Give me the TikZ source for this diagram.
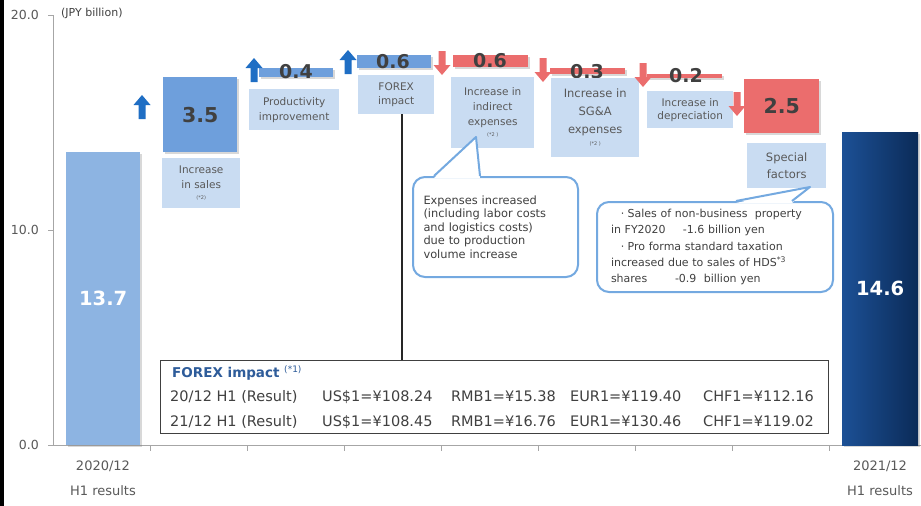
\documentclass[tikz,border=0pt]{standalone}
\usepackage{fontspec}
\setmainfont{DejaVu Sans}
\usetikzlibrary{shadows}

\definecolor{barblue}{HTML}{8DB4E2}
\definecolor{stepblue}{HTML}{6E9FDC}
\definecolor{tagblue}{HTML}{C9DCF2}
\definecolor{upblue}{HTML}{1F6EC4}
\definecolor{stepred}{HTML}{EB6D6D}
\definecolor{navyleft}{HTML}{1C5095}
\definecolor{navyright}{HTML}{0B2B58}
\definecolor{notebl}{HTML}{74A9E0}
\definecolor{txtgray}{HTML}{595959}
\definecolor{valgray}{HTML}{404040}
\definecolor{axisgray}{HTML}{A6A6A6}
\definecolor{fxtitle}{HTML}{2E5C9A}

\tikzset{
	uparr/.pic={
		\fill [pic actions] (-3.5,0) -- (-3.5,-14) -- (-8.5,-14) -- (0,-24)
		-- (8.5,-14) -- (3.5,-14) -- (3.5,0) -- cycle;
	},
	downarr/.pic={
		\fill [pic actions] (-3.5,0) -- (-3.5,14) -- (-8.5,14) -- (0,24)
		-- (8.5,14) -- (3.5,14) -- (3.5,0) -- cycle;
	},
}

\begin{document}
\begin{tikzpicture}[
		x=1pt, y=-1pt,
		bar/.style={
			anchor=north west,
			inner sep=0pt,
			drop shadow={shadow xshift=1.5pt, shadow yshift=-1.5pt, opacity=.3},
			font=\bfseries\fontsize{19.5}{22}\selectfont,
			text=valgray,
		},
		tag/.style={
			anchor=north west,
			inner sep=0pt,
			fill=tagblue,
			align=center,
			text=txtgray,
			font=\fontsize{10.5}{15}\selectfont,
		},
		val/.style={
			inner sep=0pt,
			text=valgray,
			font=\bfseries\fontsize{19}{22}\selectfont,
		},
		note/.style={
			draw=notebl,
			line width=2pt,
			rounded corners=12pt,
			fill=white,
			align=left,
			text=valgray,
		},
		fxrow/.style={
			anchor=base west,
			inner sep=0pt,
			text=valgray,
			font=\fontsize{14.5}{17}\selectfont,
		},
		axisline/.style={
			draw=axisgray,
			line width=1pt,
		},
		axlabel/.style={
			inner sep=0pt,
			text=txtgray,
			font=\fontsize{12.5}{15}\selectfont,
		},
		cat/.style={
			align=center,
			inner sep=0pt,
			text=txtgray,
			font=\fontsize{13}{25}\selectfont,
		},
		link/.style={
			line width=1.5pt,
			black!85,
		},
	]

	\useasboundingbox (0,0) rectangle (921,506);
	\fill [white] (0,0) rectangle (921,506);
	\fill [black] (0,0) rectangle (4,506);

	% axes
	\draw [axisline] (53,15) -- (53,445) -- (921,445);
	\draw [axisline] (48,15) -- (53,15) (48,230) -- (53,230) (48,445) -- (53,445);
	\draw [axisline] (150,445) -- (150,451) (247,445) -- (247,451)
		(344,445) -- (344,451) (441,445) -- (441,451) (538,445) -- (538,451)
		(635,445) -- (635,451) (732,445) -- (732,451) (829,445) -- (829,451);
	\node [axlabel, anchor=east] (ytop) at (39,15) {20.0};
	\node [axlabel, anchor=east] (ymid) at (39,230) {10.0};
	\node [axlabel, anchor=east] (yzero) at (39,445) {0.0};
	\node [axlabel, anchor=west, text=valgray, font=\fontsize{11}{13}\selectfont] (unit) at (61,13) {(JPY billion)};
	\node [cat] (basecat) at (103,478.5) {2020/12\\H1 results};
	\node [cat] (resultcat) at (880,478.5) {2021/12\\H1 results};

	% bars
	\node [bar, fill=barblue, text=white, minimum width=74, minimum height=293] (base) at (66,152) {13.7};
	\node [bar, fill=stepblue, font=\bfseries\fontsize{20.5}{24}\selectfont, minimum width=74, minimum height=75] (sales) at (163,77) {3.5};
	\node [bar, fill=stepblue, minimum width=74, minimum height=9] (prod) at (259,68) {};
	\node [bar, fill=stepblue, minimum width=74, minimum height=13] (forex) at (357,55) {};
	\node [bar, fill=stepred, minimum width=75, minimum height=12] (indir) at (453,55) {};
	\node [bar, fill=stepred, minimum width=75, minimum height=6] (sga) at (550,68) {};
	\node [bar, fill=stepred, minimum width=75, minimum height=4] (depr) at (647,74) {};
	\node [bar, fill=stepred, font=\bfseries\fontsize{20.5}{24}\selectfont, minimum width=75, minimum height=54] (special) at (744,79) {2.5};
	\node [bar, left color=navyleft, right color=navyright, text=white, minimum width=76, minimum height=313] (result) at (842,132) {14.6};

	\node [val] (prodv) at (296,72) {0.4};
	\node [val] (forexv) at (393,62) {0.6};
	\node [val] (indirv) at (490,61) {0.6};
	\node [val] (sgav) at (587,72) {0.3};
	\node [val] (deprv) at (686,76) {0.2};

	% labels under the steps
	\node [tag, minimum width=78, minimum height=50] (salestag) at (162,158) {Increase\\in sales\\[-4pt]{\fontsize{5}{6}\selectfont(*2)}};
	\node [tag, minimum width=90, minimum height=41] (prodtag) at (249,89) {Productivity\\improvement};
	\node [tag, minimum width=76, minimum height=39, font=\fontsize{10.5}{14}\selectfont] (forextag) at (358,75) {FOREX\\impact};
	\node [tag, minimum width=83, minimum height=71] (indirtag) at (451,77) {Increase in\\indirect\\expenses\\[-4pt]{\fontsize{5}{6}\selectfont(*2 )}};
	\node [tag, minimum width=88, minimum height=79, font=\fontsize{11.5}{18}\selectfont] (sgatag) at (551,78) {Increase in\\SG\&A\\expenses\\[-6pt]{\fontsize{5}{6}\selectfont(*2 )}};
	\node [tag, minimum width=86, minimum height=37, font=\fontsize{10.5}{13}\selectfont] (deprtag) at (647,91) {Increase in\\depreciation};
	\node [tag, minimum width=79, minimum height=45, font=\fontsize{11.5}{17}\selectfont] (specialtag) at (747,143) {Special\\factors};

	\pic [fill=upblue] at (142,119) {uparr};
	\pic [fill=upblue] at (254,82) {uparr};
	\pic [fill=upblue] at (348,74) {uparr};
	\pic [fill=stepred] at (442,51) {downarr};
	\pic [fill=stepred] at (543,58) {downarr};
	\pic [fill=stepred] at (643,63) {downarr};
	\pic [fill=stepred] at (737,92) {downarr};

	% forex table
	\node [draw=valgray, line width=1.2pt, minimum width=668, minimum height=73, anchor=north west, inner sep=0pt] (fxtable) at (160,360) {};
	\draw [link] ([xshift=6pt]forextag.south) -- ([xshift=6pt]forextag.south |- fxtable.north);
	\node [fxrow, text=fxtitle, font=\bfseries\fontsize{13.5}{16}\selectfont] (fxhead) at (172,377) {FOREX impact {\mdseries\fontsize{9}{10}\selectfont\raisebox{4.5pt}{(*1)}}};
	\node [fxrow] (fxold) at (170,401) {\makebox[152pt][l]{20/12 H1 (Result)}\makebox[129pt][l]{US\$1=¥108.24}\makebox[119pt][l]{RMB1=¥15.38}\makebox[133pt][l]{EUR1=¥119.40}CHF1=¥112.16};
	\node [fxrow] (fxnew) at (170,426) {\makebox[152pt][l]{21/12 H1 (Result)}\makebox[129pt][l]{US\$1=¥108.45}\makebox[119pt][l]{RMB1=¥16.76}\makebox[133pt][l]{EUR1=¥130.46}CHF1=¥119.02};

	% callouts
	\node [note, minimum width=165, minimum height=100, text width=144, font=\fontsize{11.4}{13.4}\selectfont] (expnote) at (495.5,227) {Expenses increased\\(including labor costs\\and logistics costs)\\due to production\\volume increase};
	\coordinate (exptip) at (476,137);
	\fill [white] ([xshift=22pt,yshift=-2pt]expnote.north west) -- (exptip) -- ([xshift=68pt,yshift=-2pt]expnote.north west) -- cycle;
	\draw [notebl, line width=2pt, line join=round] ([xshift=22pt]expnote.north west) -- (exptip) -- ([xshift=68pt]expnote.north west);

	\node [note, minimum width=236, minimum height=90, text width=208, font=\fontsize{11}{16.3}\selectfont] (salenote) at (715,247) {\hspace*{0.9em}·\hspace{0.3em}Sales of non-business\ \ property\\\makebox[72pt][l]{in FY2020}-1.6 billion yen\\\hspace*{0.9em}·\hspace{0.3em}Pro forma standard taxation\\increased due to sales of HDS\textsuperscript{*3}\\\makebox[64pt][l]{shares}-0.9\ \ billion yen};
	\coordinate (saletip) at (810,187);
	\fill [white] ([xshift=140pt,yshift=-2pt]salenote.north west) -- (saletip) -- ([xshift=196pt,yshift=-2pt]salenote.north west) -- cycle;
	\draw [notebl, line width=2pt, line join=round] ([xshift=140pt]salenote.north west) -- (saletip) -- ([xshift=196pt]salenote.north west);

\end{tikzpicture}
\end{document}
